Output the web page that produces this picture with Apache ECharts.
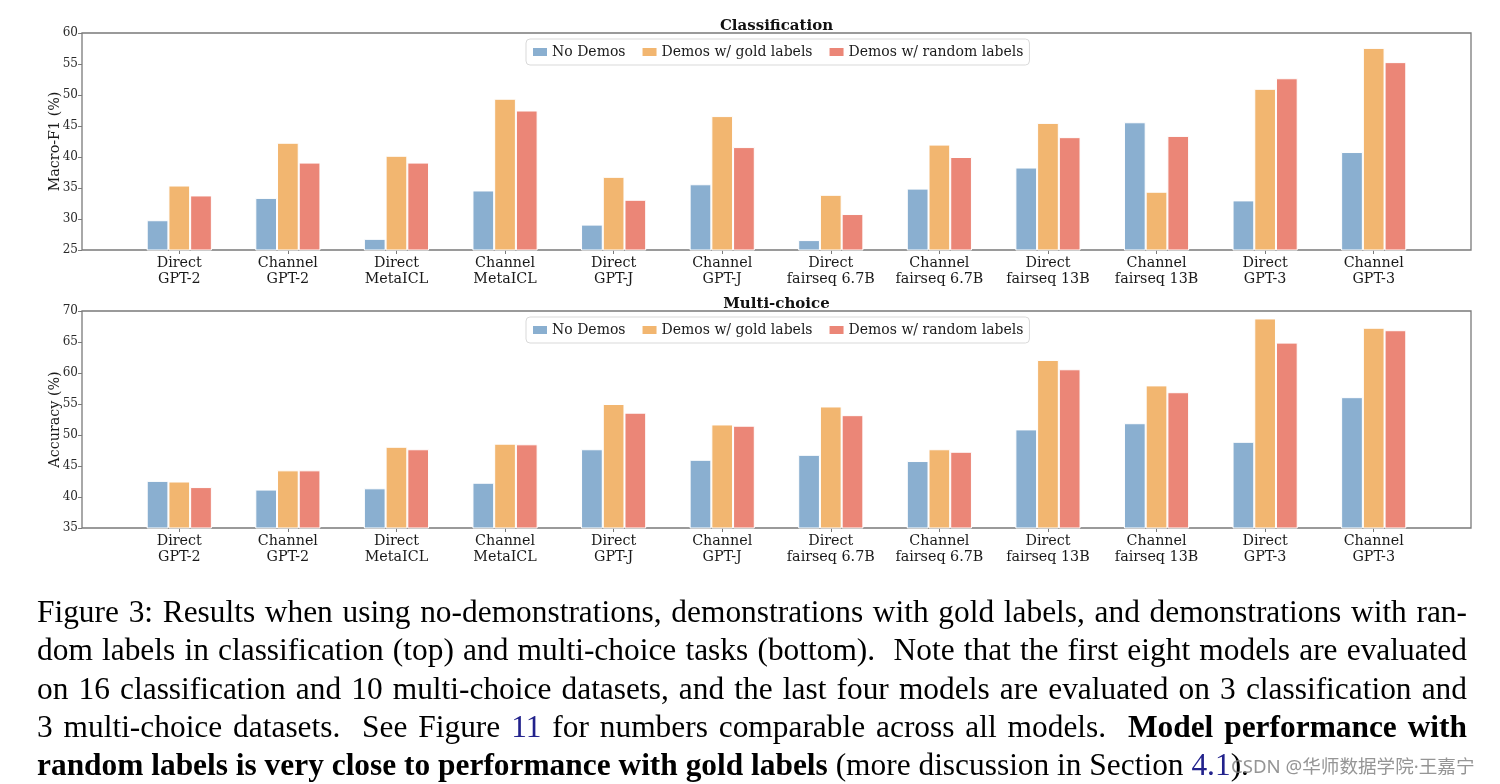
<!DOCTYPE html>
<html>
<head>
<meta charset="utf-8">
<script src="https://cdn.jsdelivr.net/npm/echarts@6/dist/echarts.min.js"></script>
<style>
  html, body { margin: 0; padding: 0; background: #fff; }
  #wrap { position: relative; width: 1500px; height: 784px; overflow: hidden; }
  #chart { position: absolute; left: 0; top: 0; width: 1500px; height: 784px; }
  #caption { position: absolute; left: 37px; top: 593px; width: 1430px;
    font-family: "Liberation Serif", "Times New Roman", serif; font-size: 31.4px; color: #000; }
  #caption .ln { height: 38.3px; line-height: 38.3px; white-space: nowrap; }
  #caption .j { text-align: justify; text-align-last: justify; white-space: normal; overflow: hidden; }
  #caption .blue { color: #22228c; }
  #wm { position: absolute; left: 1231px; top: 751px; font-family: "Noto Sans", "Noto Sans CJK SC", sans-serif;
    font-size: 18.6px; color: rgba(130,130,130,0.85); white-space: nowrap; }
</style>
</head>
<body>
<div id="wrap">
  <div id="chart"></div>
  <div id="caption">
    <div class="ln j">Figure 3: Results when using no-demonstrations, demonstrations with gold labels, and demonstrations with ran-</div>
    <div class="ln j">dom labels in classification (top) and multi-choice tasks (bottom). &nbsp;Note that the first eight models are evaluated</div>
    <div class="ln j">on 16 classification and 10 multi-choice datasets, and the last four models are evaluated on 3 classification and</div>
    <div class="ln j">3 multi-choice datasets. &nbsp;See Figure <span class="blue">11</span> for numbers comparable across all models. &nbsp;<b>Model performance with</b></div>
    <div class="ln"><b>random labels is very close to performance with gold labels</b> (more discussion in Section <span class="blue">4.1</span>).</div>
  </div>
  <div id="wm">CSDN @华师数据学院·王嘉宁</div>
</div>
<script>
// ---- data ----
const categories = ['Direct\nGPT-2', 'Channel\nGPT-2', 'Direct\nMetaICL', 'Channel\nMetaICL',
  'Direct\nGPT-J', 'Channel\nGPT-J', 'Direct\nfairseq 6.7B', 'Channel\nfairseq 6.7B',
  'Direct\nfairseq 13B', 'Channel\nfairseq 13B', 'Direct\nGPT-3', 'Channel\nGPT-3'];
const seriesNames = ['No Demos', 'Demos w/ gold labels', 'Demos w/ random labels'];

const clsNoDemos = [29.8, 33.4, 26.8, 34.6, 29.1, 35.6, 26.6, 34.9, 38.3, 45.6, 33.0, 40.8];
const clsGold    = [35.4, 42.3, 40.2, 49.4, 36.8, 46.6, 33.9, 42.0, 45.5, 34.4, 51.0, 57.6];
const clsRandom  = [33.8, 39.1, 39.1, 47.5, 33.1, 41.6, 30.8, 40.0, 43.2, 43.4, 52.7, 55.3];

const mcNoDemos = [42.6, 41.2, 41.4, 42.3, 47.7, 46.0, 46.8, 45.8, 50.9, 51.9, 48.9, 56.1];
const mcGold    = [42.5, 44.3, 48.1, 48.6, 55.0, 51.7, 54.6, 47.7, 62.1, 58.0, 68.8, 67.3];
const mcRandom  = [41.6, 44.3, 47.7, 48.5, 53.6, 51.5, 53.2, 47.3, 60.6, 56.9, 64.9, 66.9];

const clsAxis = { min: 25, max: 60, interval: 5, name: 'Macro-F1 (%)' };
const mcAxis  = { min: 35, max: 70, interval: 5, name: 'Accuracy (%)' };
const titles = ['Classification', 'Multi-choice'];

// ---- chart ----
const colors = ['#8aafd0', '#f2b670', '#eb8677'];
const serif = 'DejaVu Serif';
const frameColor = '#7a7a7a';
const chart = echarts.init(document.getElementById('chart'), null, { renderer: 'canvas' });

const frameL = 82, frameW = 1389, plotH = 217;
const tops = [33, 311];
const barsL = 125, barsW = 1303;

const grids = [], xAxes = [], yAxes = [], series = [], legends = [], titleCmp = [];
const panels = [
  { axis: clsAxis, data: [clsNoDemos, clsGold, clsRandom] },
  { axis: mcAxis, data: [mcNoDemos, mcGold, mcRandom] }
];
panels.forEach((p, k) => {
  const top = tops[k];
  grids.push({ left: frameL, top: top, width: frameW, height: plotH, show: true,
    borderColor: frameColor, borderWidth: 1.3, backgroundColor: 'transparent' });
  grids.push({ left: barsL, top: top, width: barsW, height: plotH });
  const g0 = 2 * k, g1 = 2 * k + 1;
  xAxes.push({ gridIndex: g0, type: 'value', min: 0, max: 1, show: false });
  xAxes.push({ gridIndex: g1, type: 'category', data: categories,
    axisLine: { show: false },
    axisTick: { show: true, alignWithLabel: true, length: 4, lineStyle: { color: frameColor, width: 1 } },
    axisLabel: { fontFamily: serif, fontSize: 14.3, color: '#1a1a1a', lineHeight: 16, margin: 5, interval: 0 } });
  yAxes.push({ gridIndex: g0, type: 'value', min: p.axis.min, max: p.axis.max, interval: p.axis.interval,
    name: p.axis.name, nameLocation: 'middle', nameGap: 20, nameRotate: 90, nameMoveOverlap: false,
    nameTextStyle: { fontFamily: serif, fontSize: 14.3, color: '#1a1a1a' },
    axisLine: { show: false },
    axisTick: { show: true, length: 4, lineStyle: { color: frameColor, width: 1 } },
    splitLine: { show: false },
    axisLabel: { fontFamily: serif, fontSize: 12, color: '#2a2a2a', margin: 4 } });
  yAxes.push({ gridIndex: g1, type: 'value', min: p.axis.min, max: p.axis.max, show: false, splitLine: { show: false } });
  p.data.forEach((vals, i) => {
    series.push({ type: 'bar', name: seriesNames[i], xAxisIndex: 2 * k + 1, yAxisIndex: 2 * k + 1,
      data: vals, barWidth: '20%', barGap: '0%',
      itemStyle: { color: colors[i], borderColor: '#ffffff', borderWidth: 1 },
      emphasis: { disabled: true } });
  });
  legends.push({ data: seriesNames, left: 526, top: top + 6, orient: 'horizontal',
    icon: 'rect', itemWidth: 16, itemHeight: 10, itemGap: 15,
    padding: [6, 6, 6, 5], backgroundColor: '#ffffff', borderColor: '#d9d9d9', borderWidth: 1, borderRadius: 4,
    selectedMode: false,
    textStyle: { fontFamily: serif, fontSize: 14, color: '#1a1a1a', padding: [0, 0, 0, -1] } });
  titleCmp.push({ text: titles[k], left: frameL + frameW / 2, textAlign: 'center', top: top - 14, padding: 0,
    textStyle: { fontFamily: serif, fontWeight: 'bold', fontSize: 15, color: '#111' } });
});

chart.setOption({
  animation: false,
  color: colors,
  title: titleCmp,
  legend: legends,
  grid: grids,
  xAxis: xAxes,
  yAxis: yAxes,
  series: series
});
</script>
</body>
</html>
